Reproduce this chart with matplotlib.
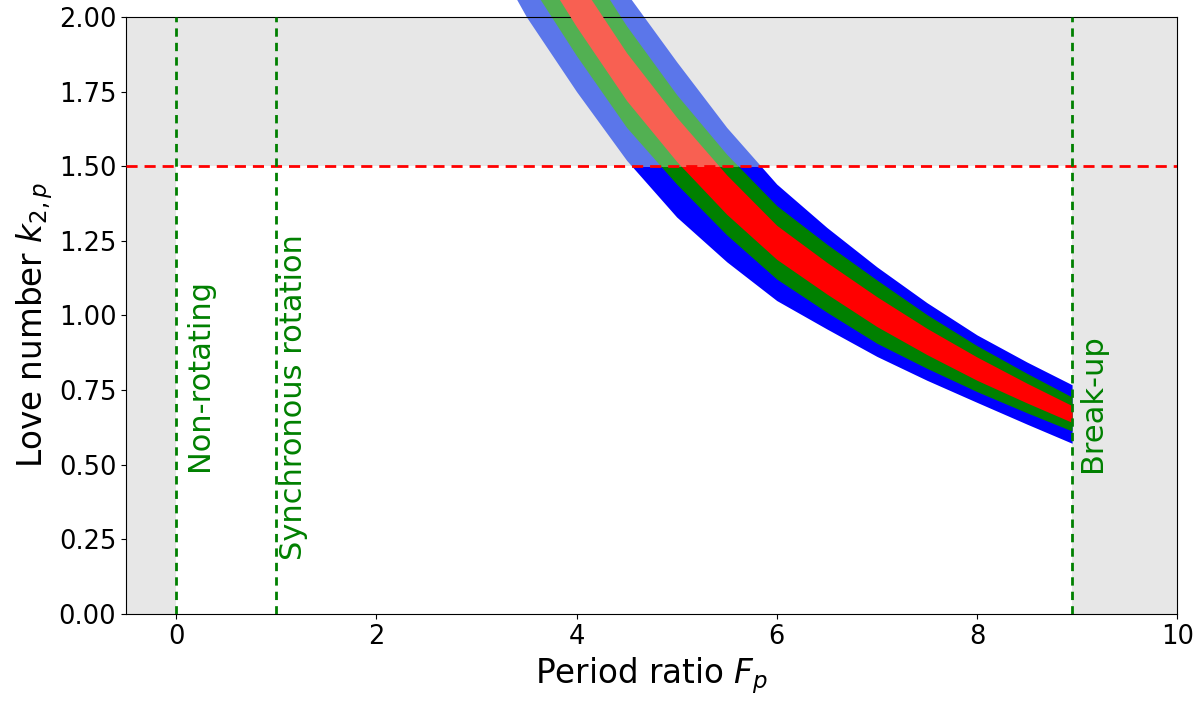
import matplotlib
matplotlib.use("Agg")
import matplotlib.pyplot as plt
import numpy as np
from matplotlib.patches import Rectangle

# ---- data ----
# period ratio F_p sample positions along the band
f_p = [3.30, 3.50, 4.00, 4.50, 5.00, 5.50, 6.00, 6.50, 7.00, 7.50, 8.00, 8.50, 8.95]
# middle of the band (Love number k_2,p)
k_mid = [2.45, 2.32, 2.05, 1.80, 1.59, 1.405, 1.245, 1.125, 1.013, 0.913, 0.822, 0.740, 0.670]
# vertical half-widths of the 1-, 2-, 3-sigma bands
half_1s = [0.086, 0.085, 0.083, 0.080, 0.074, 0.066, 0.057, 0.053, 0.050, 0.044, 0.039, 0.033, 0.028]
half_2s = [0.195, 0.190, 0.180, 0.170, 0.150, 0.135, 0.123, 0.114, 0.106, 0.090, 0.077, 0.066, 0.057]
half_3s = [0.330, 0.320, 0.300, 0.280, 0.260, 0.225, 0.195, 0.170, 0.150, 0.130, 0.113, 0.104, 0.098]

k_limit = 1.5
f_nonrot = 0.0
f_sync = 1.0
f_breakup = 8.95

marker_labels = ["Non-rotating", "Synchronous rotation", "Break-up"]
marker_x = [f_nonrot, f_sync, f_breakup]

x_ticks = [0, 2, 4, 6, 8, 10]
y_ticks = [0.00, 0.25, 0.50, 0.75, 1.00, 1.25, 1.50, 1.75, 2.00]

# ---- figure ----
fig = plt.figure(figsize=(12, 7.05), dpi=100)
ax = fig.add_axes([0.105, 0.129, 0.876, 0.847])
grey = "#e7e7e7"
ax.set_facecolor(grey)
ax.set_xlim(-0.5, 10)
ax.set_ylim(0, 2)

# allowed (white) region
ax.add_patch(Rectangle((f_nonrot, 0), f_breakup - f_nonrot, k_limit,
                       facecolor="white", edgecolor="none", zorder=0.5))

xs = np.array(f_p)
mid = np.array(k_mid)
bands = [
    (np.array(half_3s), "#0000ff", "#5b76ea"),
    (np.array(half_2s), "#008000", "#52b052"),
    (np.array(half_1s), "#ff0000", "#f86052"),
]

for i, (hw, dark, light) in enumerate(bands):
    clip_lo = Rectangle((-1, -1), 12, k_limit + 1, transform=ax.transData)
    clip_hi = Rectangle((-1, k_limit), 12, 3, transform=ax.transData)
    p1 = ax.fill_between(xs, mid - hw, mid + hw, color=dark, lw=0, zorder=1 + i)
    p1.set_clip_path(clip_lo)
    p2 = ax.fill_between(xs, mid - hw, mid + hw, color=light, lw=0, zorder=1 + i)
    p2.set_clip_path(clip_hi)

ax.axhline(k_limit, color="red", ls="--", lw=2, dashes=(4, 2.5), zorder=6)
for xv in marker_x:
    ax.axvline(xv, color="green", ls="--", lw=2, dashes=(3, 2.2), zorder=6)

txt_kw = dict(rotation=90, color="green", fontsize=22, ha="left", va="bottom", zorder=7)
ax.text(0.09, 0.48, marker_labels[0], **txt_kw)
ax.text(1.03, 0.18, marker_labels[1], **txt_kw)
ax.text(9.01, 0.475, marker_labels[2], **txt_kw)

ax.set_xticks(x_ticks)
ax.set_yticks(y_ticks)
ax.set_yticklabels([f"{v:.2f}" for v in y_ticks])
ax.tick_params(labelsize=18.5)
ax.set_xlabel("Period ratio $F_p$", fontsize=23.5)
ax.set_ylabel("Love number $k_{2,p}$", fontsize=23.5)
ax.yaxis.set_label_coords(-0.068, 0.485)

fig.savefig("out.png", dpi=100)
